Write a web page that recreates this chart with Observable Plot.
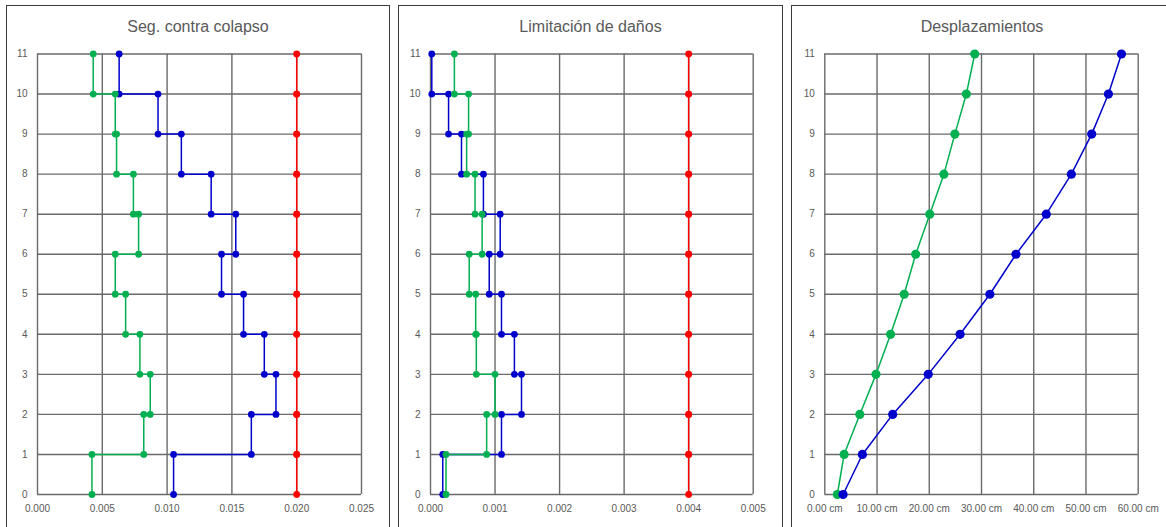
<!DOCTYPE html>
<html>
<head>
<meta charset="utf-8">
<script src="https://cdn.jsdelivr.net/npm/d3@7"></script>
<script src="https://cdn.jsdelivr.net/npm/@observablehq/plot@0.6"></script>
<style>
  html, body { margin: 0; padding: 0; background: #fff; width: 1166px; height: 527px; overflow: hidden; position: relative; }
  .box { position: absolute; top: 5px; height: 540px; border: 1.5px solid #3a3a3a; border-bottom: none; box-sizing: border-box; }
  .title { position: absolute; top: 12px; left: 0; right: 0; text-align: center; font-family: "Liberation Sans", Arial, sans-serif; font-size: 16px; color: #595959; }
  .plot { position: absolute; top: 40px; }
</style>
</head>
<body>
<div class="box" style="left:6px;width:384px;"><div class="title">Seg. contra colapso</div></div>
<div class="box" style="left:398px;width:385px;"><div class="title">Limitación de daños</div></div>
<div class="box" style="left:791px;width:382px;"><div class="title">Desplazamientos</div></div>
<div id="p1" class="plot" style="left:7px;"></div>
<div id="p2" class="plot" style="left:400px;"></div>
<div id="p3" class="plot" style="left:792px;"></div>
<script>
// Levels (floors) 0..11
const levels = [0, 1, 2, 3, 4, 5, 6, 7, 8, 9, 10, 11];

// Panel 1: "Seg. contra colapso" — per-story values (story 1..11)
const colapsoBlue  = [0.0105, 0.0165, 0.0184, 0.0175, 0.0159, 0.0142, 0.0153, 0.0134, 0.0111, 0.0093, 0.0063];
const colapsoGreen = [0.0042, 0.0082, 0.0087, 0.0079, 0.0068, 0.0060, 0.0078, 0.0074, 0.0061, 0.0060, 0.0043];
const colapsoLimit = [0.020, 0.020, 0.020, 0.020, 0.020, 0.020, 0.020, 0.020, 0.020, 0.020, 0.020];
const colapsoTicks = [0, 0.005, 0.010, 0.015, 0.020, 0.025];

// Panel 2: "Limitación de daños"
const danosBlue  = [0.00019, 0.00110, 0.00141, 0.00130, 0.00110, 0.00091, 0.00108, 0.00082, 0.00048, 0.00028, 0.00002];
const danosGreen = [0.00024, 0.00087, 0.00100, 0.00071, 0.00070, 0.00060, 0.00080, 0.00069, 0.00056, 0.00059, 0.00037];
const danosLimit = [0.004, 0.004, 0.004, 0.004, 0.004, 0.004, 0.004, 0.004, 0.004, 0.004, 0.004];
const danosTicks = [0, 0.001, 0.002, 0.003, 0.004, 0.005];

// Panel 3: "Desplazamientos" (cm) per level 0..11
const despGreen = [2.4, 3.7, 6.7, 9.8, 12.6, 15.2, 17.4, 20.1, 22.8, 24.9, 27.1, 28.7];
const despBlue  = [3.5, 7.2, 13.0, 19.8, 25.9, 31.6, 36.6, 42.4, 47.2, 51.1, 54.3, 56.8];
const despTicks = [0, 10, 20, 30, 40, 50, 60];

const BLUE = "#0000CC", GREEN = "#00B050", RED = "#FF0000", GRID = "#6a6a6a";

// each story value v (index i) spans level i to i+1
function steps(vals) {
  const pts = [];
  vals.forEach((v, i) => { pts.push({x: v, y: levels[i]}); pts.push({x: v, y: levels[i + 1]}); });
  return pts;
}

function panel(el, opts) {
  const {width, ml, mr, xDomain, xTicks, xFormat, series, r} = opts;
  const marks = [
    Plot.gridX(xTicks, {stroke: GRID, strokeOpacity: 1, strokeWidth: 1.4}),
    Plot.gridY(levels, {stroke: GRID, strokeOpacity: 1, strokeWidth: 1.4}),
    Plot.axisX(xTicks, {tickSize: 0, tickPadding: 10, tickFormat: xFormat, fontSize: 10}),
    Plot.axisY(levels, {tickSize: 0, tickPadding: 10, fontSize: 10})
  ];
  for (const s of series) {
    marks.push(Plot.line(s.data, {x: "x", y: "y", stroke: s.color, strokeWidth: 1.5}));
    marks.push(Plot.dot(s.data, {x: "x", y: "y", fill: s.color, r}));
  }
  const chart = Plot.plot({
    width, height: 485,
    marginLeft: ml, marginRight: mr, marginTop: 13.5, marginBottom: 31,
    x: {domain: xDomain, label: null},
    y: {domain: [0, 11], label: null},
    style: {fontFamily: "'Liberation Sans', Arial, sans-serif", fontSize: "10px", color: "#595959", background: "transparent", overflow: "visible"},
    marks
  });
  document.getElementById(el).appendChild(chart);
}

panel("p1", {
  width: 382, ml: 30, mr: 28, xDomain: [0, 0.025], xTicks: colapsoTicks,
  xFormat: d => d.toFixed(3), r: 3.4,
  series: [
    {data: steps(colapsoBlue), color: BLUE},
    {data: steps(colapsoGreen), color: GREEN},
    {data: steps(colapsoLimit), color: RED}
  ]
});

panel("p2", {
  width: 382, ml: 30, mr: 29.3, xDomain: [0, 0.005], xTicks: danosTicks,
  xFormat: d => d.toFixed(3), r: 3.4,
  series: [
    {data: steps(danosBlue), color: BLUE},
    {data: steps(danosGreen), color: GREEN},
    {data: steps(danosLimit), color: RED}
  ]
});

panel("p3", {
  width: 374, ml: 32.3, mr: 28.3, xDomain: [0, 60], xTicks: despTicks,
  xFormat: d => d.toFixed(2) + " cm", r: 4.6,
  series: [
    {data: levels.map((l, i) => ({x: despGreen[i], y: l})), color: GREEN},
    {data: levels.map((l, i) => ({x: despBlue[i], y: l})), color: BLUE}
  ]
});
</script>
</body>
</html>
